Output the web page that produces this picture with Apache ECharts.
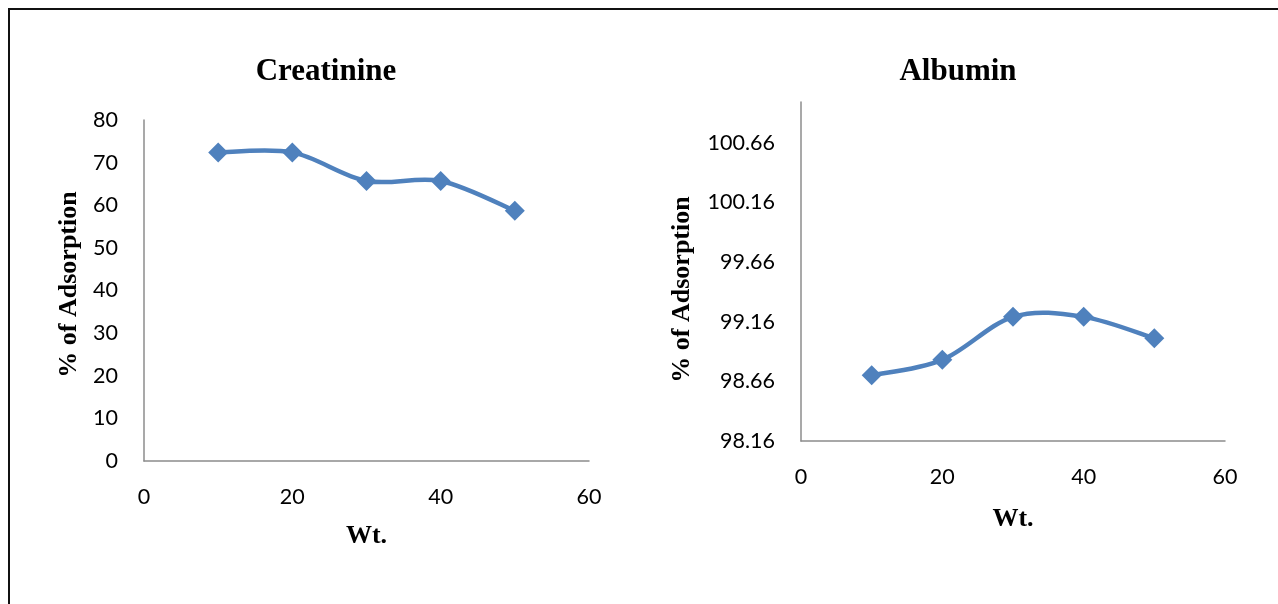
<!DOCTYPE html>
<html><head><meta charset="utf-8">
<script src="https://cdn.jsdelivr.net/npm/echarts@6/dist/echarts.min.js"></script>
<style>html,body{margin:0;padding:0;background:#fff}#c{width:1278px;height:604px}</style>
</head><body><div id="c"></div>
<script>
const wtCreatinine = [10, 20, 30, 40, 50];
const creatinine = [72.4, 72.4, 65.7, 65.7, 58.7];
const wtAlbumin = [10, 20, 30, 40, 50];
const albumin = [98.71, 98.84, 99.20, 99.20, 99.02];
const titles = ['Creatinine', 'Albumin'];
const yName = '% of Adsorption';
const xName = 'Wt.';

const LINE_COLOR = '#4F81BD';
const tickFont = {fontFamily: 'Lato', fontSize: 21.5, color: '#000'};
const serifBold = {fontFamily: 'Liberation Serif', fontWeight: 'bold', color: '#000'};
const axisLine = {show: true, lineStyle: {color: '#8c8c8c', width: 1.5}};

function pairs(xs, ys) { return xs.map((x, i) => [x, ys[i]]); }

// Excel-like smoothed line (Catmull-Rom style Bezier), built from data through api.coord
function smoothRenderer(xs, ys) {
  return function (params, api) {
    const i = params.dataIndex;
    if (i >= xs.length - 1) return null;
    const p = k => api.coord([xs[Math.max(0, Math.min(xs.length - 1, k))], ys[Math.max(0, Math.min(xs.length - 1, k))]]);
    const p0 = p(i - 1), p1 = p(i), p2 = p(i + 1), p3 = p(i + 2);
    const t = 1 / 6;
    return {
      type: 'bezierCurve',
      shape: {
        x1: p1[0], y1: p1[1], x2: p2[0], y2: p2[1],
        cpx1: p1[0] + (p2[0] - p0[0]) * t, cpy1: p1[1] + (p2[1] - p0[1]) * t,
        cpx2: p2[0] - (p3[0] - p1[0]) * t, cpy2: p2[1] - (p3[1] - p1[1]) * t
      },
      style: {fill: null, stroke: LINE_COLOR, lineWidth: 4.5, lineCap: 'round'}
    };
  };
}

const chart = echarts.init(document.getElementById('c'), null, {renderer: 'canvas'});
chart.setOption({
  animation: false,
  backgroundColor: '#fff',
  graphic: [{
    type: 'rect', silent: true,
    shape: {x: 9, y: 9, width: 1400, height: 800},
    style: {fill: 'none', stroke: '#111', lineWidth: 2}
  }],
  title: [
    {text: titles[0], left: 321, top: 51, textAlign: 'center', textStyle: Object.assign({fontSize: 31}, serifBold)},
    {text: titles[1], left: 953, top: 51, textAlign: 'center', textStyle: Object.assign({fontSize: 31}, serifBold)}
  ],
  grid: [
    {left: 144, top: 120, width: 445, height: 341},
    {left: 801, top: 102, width: 424, height: 339}
  ],
  xAxis: [
    {gridIndex: 0, type: 'value', min: 0, max: 60, interval: 20,
     axisLine: axisLine, axisTick: {show: false}, splitLine: {show: false},
     axisLabel: Object.assign({margin: 25}, tickFont),
     name: xName, nameLocation: 'middle', nameGap: 62, nameTextStyle: Object.assign({fontSize: 26}, serifBold)},
    {gridIndex: 1, type: 'value', min: 0, max: 60, interval: 20,
     axisLine: axisLine, axisTick: {show: false}, splitLine: {show: false},
     axisLabel: Object.assign({margin: 25}, tickFont),
     name: xName, nameLocation: 'middle', nameGap: 65, nameTextStyle: Object.assign({fontSize: 26}, serifBold)}
  ],
  yAxis: [
    {gridIndex: 0, type: 'value', min: 0, max: 80, interval: 10,
     axisLine: axisLine, axisTick: {show: false}, splitLine: {show: false},
     axisLabel: Object.assign({margin: 26}, tickFont),
     name: yName, nameLocation: 'middle', nameGap: 62,
     nameTextStyle: Object.assign({fontSize: 26, padding: [0, 0, 0, 12]}, serifBold)},
    {gridIndex: 1, type: 'value', min: 98.16, max: 101.0, interval: 0.5,
     axisLine: axisLine, axisTick: {show: false}, splitLine: {show: false},
     axisLabel: Object.assign({margin: 26, showMaxLabel: false, formatter: v => v.toFixed(2)}, tickFont),
     name: yName, nameLocation: 'middle', nameGap: 106,
     nameTextStyle: Object.assign({fontSize: 26, padding: [0, 36, 0, 0]}, serifBold)}
  ],
  series: [
    {type: 'custom', xAxisIndex: 0, yAxisIndex: 0, data: pairs(wtCreatinine, creatinine),
     renderItem: smoothRenderer(wtCreatinine, creatinine), z: 2, clip: false},
    {type: 'custom', xAxisIndex: 1, yAxisIndex: 1, data: pairs(wtAlbumin, albumin),
     renderItem: smoothRenderer(wtAlbumin, albumin), z: 2, clip: false},
    {type: 'scatter', xAxisIndex: 0, yAxisIndex: 0, data: pairs(wtCreatinine, creatinine),
     symbol: 'diamond', symbolSize: 20, itemStyle: {color: LINE_COLOR, opacity: 1}, z: 3},
    {type: 'scatter', xAxisIndex: 1, yAxisIndex: 1, data: pairs(wtAlbumin, albumin),
     symbol: 'diamond', symbolSize: 20, itemStyle: {color: LINE_COLOR, opacity: 1}, z: 3}
  ]
});
</script></body></html>
